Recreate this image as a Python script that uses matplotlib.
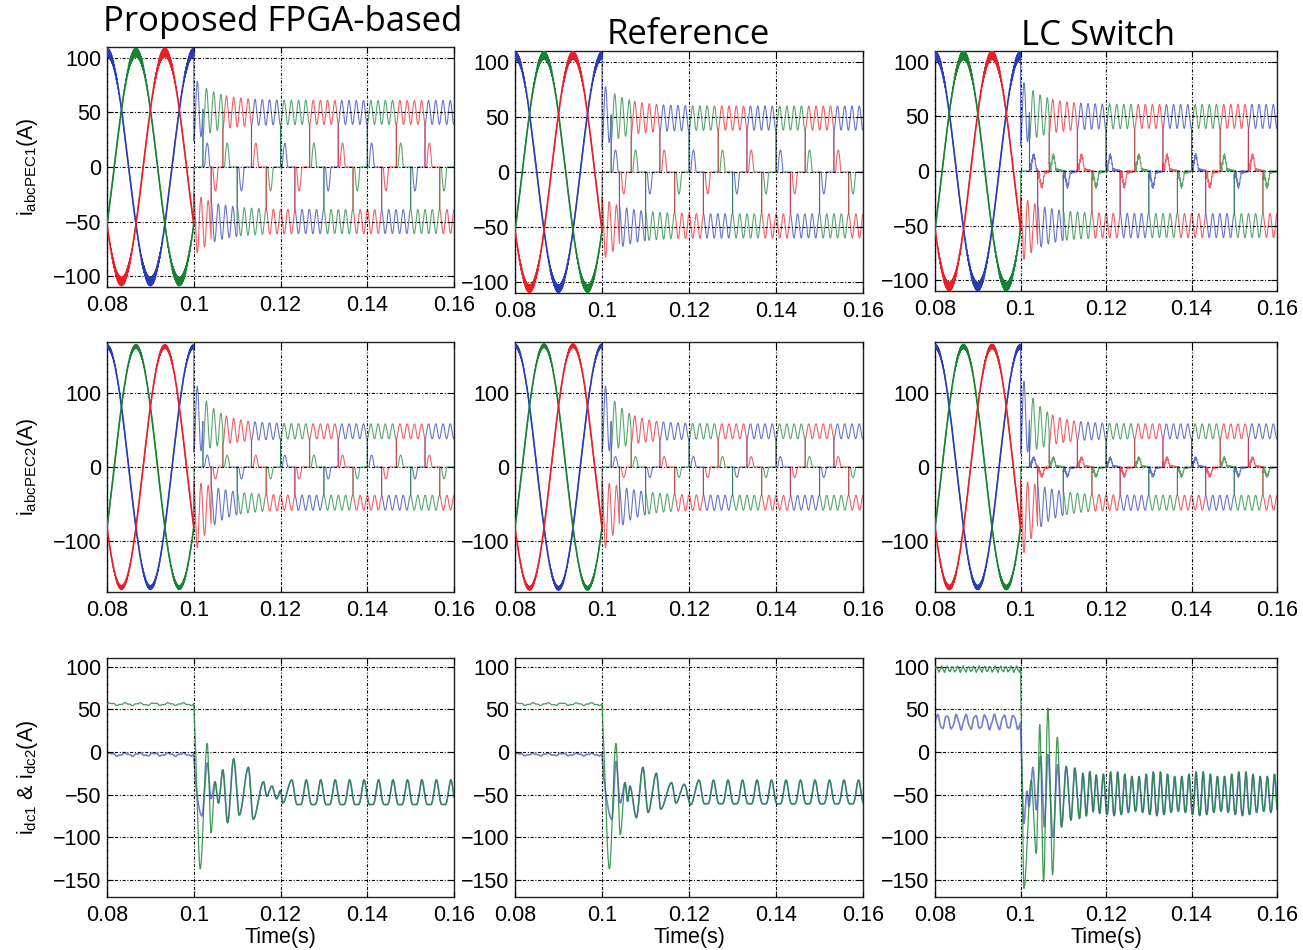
import numpy as np
import matplotlib
matplotlib.use('Agg')
import matplotlib.pyplot as plt

plt.rcParams['font.family'] = ['Liberation Sans', 'DejaVu Sans']
plt.rcParams['mathtext.fontset'] = 'custom'
plt.rcParams['mathtext.rm'] = 'Liberation Sans'
plt.rcParams['mathtext.it'] = 'Liberation Sans:italic'
plt.rcParams['axes.unicode_minus'] = True

# ------------------------------------------------------------------ data
col_titles = ['Proposed FPGA-based', 'Reference', 'LC Switch']
row_ylabels = [r'$\mathrm{i_{abcPEC1}}$(A)',
               r'$\mathrm{i_{abcPEC2}}$(A)',
               r'$\mathrm{i_{dc1}}$ & $\mathrm{i_{dc2}}$(A)']
x_label = 'Time(s)'
x_ticks = [0.08, 0.10, 0.12, 0.14, 0.16]
x_ticklabels = ['0.08', '0.1', '0.12', '0.14', '0.16']
y_ticks = [[-100, -50, 0, 50, 100], [-100, 0, 100], [-150, -100, -50, 0, 50, 100]]
y_limits = [(-110, 110), (-168, 168), (-170, 110)]

t_start, t_fault, t_end = 0.08, 0.10, 0.16
f_grid = 50.0            # Hz, pre-fault phase current frequency
ripple_freq = 600.0      # Hz, ripple on post-fault plateaus

# AC phase currents  [row][col]  (rows: PEC1, PEC2)
pre_peak = [[105, 106, 106], [162, 163, 162]]
pre_hf = [[3.5, 3.0, 3.5], [2.0, 2.0, 2.5]]
plateau = [[50, 49, 50], [48, 48, 48]]
plateau_tr = [[3, 3, 4], [22, 22, 25]]
ripple_ss = [[11, 11, 11], [10, 10, 10]]
ripple_tr = [[18, 18, 20], [40, 40, 45]]
zero_bump = [[22, 20, 12], [16, 14, 10]]
zero_noise = [[0, 0, 7], [0, 0, 7]]

# commutation instants (positive / negative conduction)
pos_edges = [0.1000, 0.1021, 0.1067, 0.1133, 0.1200, 0.1267, 0.1333, 0.1400, 0.1467, 0.1533, 0.1600]
pos_phase = ['b', 'g', 'r', 'b', 'g', 'r', 'b', 'g', 'r', 'b']
neg_edges = [0.1000, 0.1040, 0.1100, 0.1167, 0.1233, 0.1300, 0.1367, 0.1433, 0.1500, 0.1567, 0.1600]
neg_phase = ['r', 'b', 'g', 'r', 'b', 'g', 'r', 'b', 'g', 'r']

# DC currents [col]
dc_pre_green = [56, 56, 97]
dc_pre_blue = [-3, -3, 35]
dc_pre_rip_green = [1.2, 1.2, 3.0]
dc_pre_rip_blue = [1.5, 1.2, 8.0]
dc_pre_f_green = [300, 300, 800]
dc_pre_f_blue = [300, 300, 450]
dc_pre_h_green = [0.5, 0.5, 0.3]
dc_pre_h_blue = [0.5, 0.5, 0.15]

# transient extrema (time, value) after the fault
dc_green_t = [
    [0.1000, 0.1003, 0.1015, 0.1031, 0.1040, 0.1049, 0.1057, 0.1067, 0.1078, 0.1092, 0.1105,
     0.1126, 0.1137, 0.1161, 0.1168, 0.1180, 0.1191, 0.1200, 0.1205, 0.1226],
    [0.1000, 0.1003, 0.1017, 0.1032, 0.1042, 0.1053, 0.1059, 0.1064, 0.1079, 0.1094, 0.1106,
     0.1125, 0.1135, 0.1160, 0.1170, 0.1189, 0.1204, 0.1223],
    [0.1000, 0.1003, 0.1008, 0.1025, 0.1037, 0.1045, 0.1054, 0.1064, 0.1075, 0.1086, 0.1096,
     0.1107, 0.1118, 0.1127, 0.1138, 0.1146, 0.1154, 0.1162, 0.1170, 0.1177, 0.1185, 0.1194]]
dc_green_v = [
    [56, 20, -137, 10, -95, -35, -60, -21, -83, -8, -74, -18, -79, -35, -52, -40, -55, -45, -60, -33],
    [56, 20, -137, 10, -97, -36, -58, -40, -77, -18, -71, -25, -67, -36, -60, -38, -62, -33],
    [95, 0, -160, -33, -119, 32, -152, 51, -144, 17, -88, -17, -80, -19, -78, -25, -75, -23, -70, -27, -72, -26]]
dc_blue_t = [
    [0.1000, 0.1004, 0.1019, 0.1031, 0.1040, 0.1049, 0.1057, 0.1067, 0.1078, 0.1092, 0.1105,
     0.1126, 0.1137, 0.1161, 0.1168, 0.1180, 0.1191, 0.1200, 0.1205, 0.1226],
    [0.1000, 0.1004, 0.1023, 0.1032, 0.1042, 0.1053, 0.1059, 0.1064, 0.1079, 0.1094, 0.1106,
     0.1125, 0.1135, 0.1160, 0.1170, 0.1189, 0.1204, 0.1223],
    [0.1000, 0.1003, 0.1008, 0.1015, 0.1020, 0.1029, 0.1037, 0.1047, 0.1056, 0.1064, 0.1076,
     0.1087, 0.1096, 0.1107, 0.1118, 0.1127, 0.1138, 0.1146, 0.1154, 0.1162, 0.1170, 0.1177, 0.1185, 0.1194]]
dc_blue_v = [
    [-3, -35, -75, -13, -55, -35, -60, -21, -83, -8, -74, -18, -79, -35, -52, -40, -55, -45, -60, -33],
    [-3, -30, -79, -11, -60, -36, -58, -40, -77, -18, -71, -25, -67, -36, -60, -38, -62, -33],
    [30, -20, -84, -46, -64, -18, -68, -5, -88, -3, -100, -15, -88, -17, -80, -19, -78, -25, -75, -23, -70, -27, -72, -26]]
# steady post-fault dc ripple
dc_ss_mean = [-51.5, -51.0, -51.0]
dc_ss_amp = [14.4, 13.8, 23.0]
dc_ss_h2 = [0.30, 0.30, 0.08]
dc_ss_freq = [300, 300, 600]
dc_ss_beat = [0.0, 0.0, 0.12]

# ------------------------------------------------------------------ helpers
C_BLUE, C_GREEN, C_RED = '#283cb4', '#168232', '#eb1e28'
PHASE_COLORS = {'b': C_BLUE, 'g': C_GREEN, 'r': C_RED}

t = np.linspace(t_start, t_end, 24001)


def pchip(xk, yk, x):
    xk = np.asarray(xk, float)
    yk = np.asarray(yk, float)
    h = np.diff(xk)
    d = np.diff(yk) / h
    m = np.zeros_like(yk)
    for i in range(1, len(xk) - 1):
        if d[i - 1] * d[i] > 0:
            w1 = 2 * h[i] + h[i - 1]
            w2 = h[i] + 2 * h[i - 1]
            m[i] = (w1 + w2) / (w1 / d[i - 1] + w2 / d[i])
    m[0] = d[0]
    m[-1] = 0.0
    idx = np.clip(np.searchsorted(xk, x) - 1, 0, len(h) - 1)
    s = (x - xk[idx]) / h[idx]
    h00 = 2 * s**3 - 3 * s**2 + 1
    h10 = s**3 - 2 * s**2 + s
    h01 = -2 * s**3 + 3 * s**2
    h11 = s**3 - s**2
    return h00 * yk[idx] + h10 * h[idx] * m[idx] + h01 * yk[idx + 1] + h11 * h[idx] * m[idx + 1]


def ac_panel(r, c):
    th = 2 * np.pi * f_grid * (t - t_start)
    shift = {'b': 0.0, 'g': -2 * np.pi / 3, 'r': 2 * np.pi / 3}
    hf_phase = {'b': 0.0, 'g': 2.1, 'r': 4.2}
    pre = t <= t_fault
    dt = np.clip(t - t_fault, 0, None)
    L = plateau[r][c] + plateau_tr[r][c] * np.exp(-dt / 0.003)
    R = ripple_ss[r][c] + ripple_tr[r][c] * np.exp(-dt / 0.005)
    out = {}
    for k in 'bgr':
        y = np.zeros_like(t)
        cs = np.cos(th + shift[k])
        y[pre] = pre_peak[r][c] * cs[pre] + (0.3 + pre_hf[r][c] * np.abs(cs[pre])**4) * \
            np.sin(2 * np.pi * 5000 * t[pre] + hf_phase[k])
        conduct = np.zeros_like(t, dtype=bool)
        ends = []
        for edges, phases, sgn in ((pos_edges, pos_phase, 1), (neg_edges, neg_phase, -1)):
            for s, e, p in zip(edges[:-1], edges[1:], phases):
                if p != k:
                    continue
                m = (t > s) & (t <= e)
                conduct |= m
                tau = t[m] - s
                y[m] = sgn * (L[m] - R[m] * np.cos(2 * np.pi * ripple_freq * tau))
                if e < t_end:
                    ends.append((e, sgn))
        zero = (~conduct) & (~pre)
        for e, sgn in ends:
            mb = zero & (t > e + 0.0004) & (t < e + 0.0016)
            y[mb] += sgn * zero_bump[r][c] * np.sin(np.pi * (t[mb] - e - 0.0004) / 0.0012)
            if zero_noise[r][c] > 0:
                mz = zero & (t > e) & (t < e + 0.0034)
                y[mz] += sgn * zero_noise[r][c] * np.exp(-(t[mz] - e) / 0.0015) * \
                    (0.5 + 0.6 * np.sin(2 * np.pi * 4200 * t[mz]))
        out[k] = y
    return out


def dc_series(c, lev, rip, f, h, tk, vk):
    y = np.empty_like(t)
    pre = t <= t_fault
    y[pre] = lev + rip * (np.sin(2 * np.pi * f * t[pre]) + h * np.sin(2 * np.pi * 2.7 * f * t[pre] + 1.0))
    t_last = tk[-1]
    mid = (~pre) & (t <= t_last)
    y[mid] = pchip(tk, vk, t[mid])
    post = t > t_last
    th = 2 * np.pi * dc_ss_freq[c] * (t[post] - t_last)
    amp = dc_ss_amp[c] * (1 + dc_ss_beat[c] * np.sin(2 * np.pi * 100 * (t[post] - t_last)))
    y[post] = dc_ss_mean[c] + amp * (np.cos(th) + dc_ss_h2[c] * np.cos(2 * th))
    return y


# ------------------------------------------------------------------ figure
W, H = 1303, 950
fig = plt.figure(figsize=(W / 100, H / 100), dpi=100)

cols_x = [(107, 454), (515, 863), (935, 1277)]
rows_y = [[(47, 287), (51, 293), (51, 291)],
          [(342, 592), (342, 592), (342, 592)],
          [(658, 897), (658, 897), (658, 897)]]
grid_ls = (0, (2.7, 1.6, 0.9, 1.6))

axes = [[None] * 3 for _ in range(3)]
for r in range(3):
    for c in range(3):
        x0, x1 = cols_x[c]
        y0, y1 = rows_y[r][c]
        ax = fig.add_axes([x0 / W, 1 - y1 / H, (x1 - x0) / W, (y1 - y0) / H])
        axes[r][c] = ax
        if r < 2:
            sig = ac_panel(r, c)
            pre = t <= t_fault + 1e-12
            for k in 'bgr':
                ax.plot(t, sig[k], color=PHASE_COLORS[k], lw=0.8, alpha=0.7, zorder=2)
            for k in 'bgr':
                ax.plot(t[pre], sig[k][pre], color=PHASE_COLORS[k], lw=1.2, zorder=3)
        else:
            yb = dc_series(c, dc_pre_blue[c], dc_pre_rip_blue[c], dc_pre_f_blue[c], dc_pre_h_blue[c],
                           dc_blue_t[c], dc_blue_v[c])
            yg = dc_series(c, dc_pre_green[c], dc_pre_rip_green[c], dc_pre_f_green[c], dc_pre_h_green[c],
                           dc_green_t[c], dc_green_v[c])
            ax.plot(t, yb, color='#3c48c0', lw=1.2, alpha=0.7, zorder=2)
            ax.plot(t, yg, color='#1f8a3a', lw=0.9, alpha=0.85, zorder=3)
        ax.set_xlim(t_start, t_end)
        ax.set_ylim(*y_limits[r])
        ax.set_xticks(x_ticks)
        ax.set_xticklabels(x_ticklabels)
        ax.set_yticks(y_ticks[r])
        ax.grid(True, color='k', lw=0.8, linestyle=grid_ls)
        ax.set_axisbelow(False)
        ax.tick_params(direction='in', length=4, width=0.8, top=True, right=True,
                       labelsize=15.5, colors='k')
        ax.tick_params(axis='x', pad=6)
        ax.tick_params(axis='y', pad=4)
        for sp in ax.spines.values():
            sp.set_linewidth(1.0)
            sp.set_color('#222222')
        if r == 2:
            fig.text((x0 + x1) / 2 / W, 1 - 937 / H, x_label, ha='center', va='center', fontsize=15.5)
    y0, y1 = rows_y[r][0]
    fig.text(28 / W, 1 - (y0 + y1) / 2 / H, row_ylabels[r], rotation=90,
             ha='center', va='center', fontsize=15.5)

title_pos = [(283, 31), (688, 44), (1098, 45)]
for c in range(3):
    fig.text(title_pos[c][0] / W, 1 - title_pos[c][1] / H, col_titles[c], ha='center',
             va='baseline', fontsize=25, family=['Open Sans', 'DejaVu Sans'])

fig.savefig('out.png', dpi=100, facecolor='white')
